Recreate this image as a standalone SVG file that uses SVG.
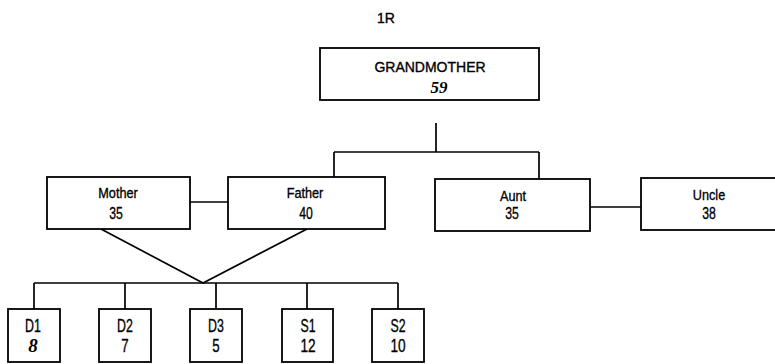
<svg xmlns="http://www.w3.org/2000/svg" width="775" height="364" viewBox="0 0 775 364">
<style>
.box{fill:#fff;stroke:#000;stroke-width:1.8}
.ln{fill:none;stroke:#000;stroke-width:1.7}
.t{font-family:"Liberation Sans",Arial,sans-serif;fill:#000;stroke:#000;stroke-width:0.35;text-anchor:middle}
.gm{font-size:14px}
.mid{font-size:15.5px}
.num{font-size:17px}
.kid{font-size:19px}
.bi{font-family:"Liberation Serif","Times New Roman",serif;font-weight:bold;font-style:italic;fill:#000;text-anchor:middle}
</style>
<rect width="775" height="364" fill="#fff"/>
<text class="t gm" x="386" y="23">1R</text>
<g id="connectors">
<path class="ln" d="M436,123 V152 M334,152 H539 M334,152 V177 M539,152 V179"/>
<path class="ln" d="M190,202 H228"/>
<path class="ln" d="M590,207 H641"/>
<path class="ln" d="M101,229 L203,283 L307,229"/>
<path class="ln" d="M34,283 H398 M34,283 V309 M125,283 V309 M216,283 V309 M307,283 V309 M398,283 V309"/>
</g>
<g id="grandmother">
<rect class="box" x="320" y="48" width="219" height="52"/>
<text class="t gm" x="430" y="72">GRANDMOTHER</text>
<text class="bi" x="439" y="93" font-size="17">59</text>
</g>
<g id="mother">
<rect class="box" x="47" y="177" width="143" height="52"/>
<text class="t mid" transform="translate(118,198) scale(0.82,1)">Mother</text>
<text class="t num" transform="translate(116,219) scale(0.72,1)">35</text>
</g>
<g id="father">
<rect class="box" x="228" y="177" width="157" height="52"/>
<text class="t mid" transform="translate(305,198) scale(0.82,1)">Father</text>
<text class="t num" transform="translate(306,219) scale(0.72,1)">40</text>
</g>
<g id="aunt">
<rect class="box" x="435" y="179" width="155" height="52"/>
<text class="t mid" transform="translate(513,201) scale(0.82,1)">Aunt</text>
<text class="t num" transform="translate(512,219) scale(0.72,1)">35</text>
</g>
<g id="uncle">
<rect class="box" x="641" y="178" width="140" height="52"/>
<text class="t mid" transform="translate(709,200) scale(0.82,1)">Uncle</text>
<text class="t num" transform="translate(709,219) scale(0.72,1)">38</text>
</g>
<g id="d1">
<rect class="box" x="8" y="309" width="52" height="53"/>
<text class="t kid" transform="translate(33,332) scale(0.65,1)">D1</text>
<text class="bi" x="33" y="352" font-size="19">8</text>
</g>
<g id="d2">
<rect class="box" x="99" y="309" width="52" height="53"/>
<text class="t kid" transform="translate(125,332) scale(0.65,1)">D2</text>
<text class="t kid" transform="translate(125,352) scale(0.7,1)">7</text>
</g>
<g id="d3">
<rect class="box" x="190" y="309" width="52" height="53"/>
<text class="t kid" transform="translate(216,332) scale(0.65,1)">D3</text>
<text class="t kid" transform="translate(216,352) scale(0.7,1)">5</text>
</g>
<g id="s1">
<rect class="box" x="282" y="309" width="51" height="53"/>
<text class="t kid" transform="translate(308,332) scale(0.65,1)">S1</text>
<text class="t kid" transform="translate(308,352) scale(0.72,1)">12</text>
</g>
<g id="s2">
<rect class="box" x="372" y="309" width="52" height="53"/>
<text class="t kid" transform="translate(398,332) scale(0.65,1)">S2</text>
<text class="t kid" transform="translate(398,352) scale(0.72,1)">10</text>
</g>
</svg>
